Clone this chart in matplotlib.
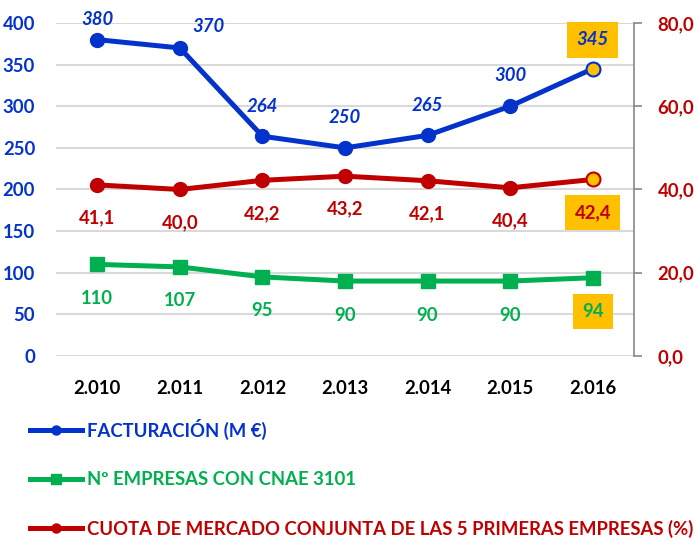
"""
Facturación, nº empresas y cuota de mercado (2010-2016)
"""

import matplotlib
matplotlib.use('Agg')
import matplotlib.pyplot as plt
from matplotlib.ticker import FuncFormatter, MultipleLocator

# ================= datos =================
years = ['2.010', '2.011', '2.012', '2.013', '2.014', '2.015', '2.016']
facturacion = [380, 370, 264, 250, 265, 300, 345]
empresas = [110, 107, 95, 90, 90, 90, 94]
cuota = [41.1, 40.0, 42.2, 43.2, 42.1, 40.4, 42.4]

lbl_fact = 'FACTURACIÓN (M €)'
lbl_emp = 'Nº EMPRESAS CON CNAE 3101'
lbl_cuota = 'CUOTA DE MERCADO CONJUNTA DE LAS 5 PRIMERAS EMPRESAS (%)'

# ================= estilo =================
c_blue = '#0433CC'
c_green = '#00B050'
c_red = '#C00000'
c_yellow = '#FFC000'
c_grid = '#D9D9D9'

plt.rcParams['font.family'] = ['Lato', 'DejaVu Sans']
plt.rcParams['font.weight'] = 'bold'
fs = 13.3

fig = plt.figure(figsize=(6.94, 5.41), dpi=100)
ax = fig.add_axes([0.0807, 0.342, 0.8328, 0.6155])
ax2 = ax.twinx()

x = list(range(len(years)))
lw = 3.6
ms = 10

l_fact, = ax.plot(x, facturacion, color=c_blue, lw=lw, marker='o', ms=ms,
                  zorder=5, label=lbl_fact)
l_emp, = ax.plot(x, empresas, color=c_green, lw=lw, marker='s', ms=ms,
                 zorder=5, label=lbl_emp)
l_cuota, = ax2.plot(x, cuota, color=c_red, lw=lw, marker='o', ms=ms,
                    zorder=5, label=lbl_cuota)

# último punto resaltado
ax.plot(x[-1], facturacion[-1], marker='o', ms=ms, mfc=c_yellow,
        mec=c_blue, mew=1.5, zorder=6)
ax2.plot(x[-1], cuota[-1], marker='o', ms=ms, mfc=c_yellow,
         mec=c_red, mew=1.5, zorder=6)

# ejes
ax.set_xlim(-0.5, len(years) - 0.5)
ax.set_ylim(0, 400)
ax2.set_ylim(0, 80)
ax.yaxis.set_major_locator(MultipleLocator(50))
ax2.yaxis.set_major_locator(MultipleLocator(20))
ax2.yaxis.set_major_formatter(FuncFormatter(lambda v, p: f'{v:.1f}'.replace('.', ',')))

ax.set_xticks(x)
ax.set_xticklabels(years)
ax.tick_params(axis='x', length=0, pad=17, labelsize=fs, labelcolor='black')
ax.tick_params(axis='y', length=0, pad=15, labelsize=fs, labelcolor=c_blue)
ax2.tick_params(axis='y', length=6, width=1.2, color='#888888', direction='out',
                pad=11, labelsize=fs, labelcolor=c_red)

ax.grid(axis='y', color=c_grid, lw=1.5)
ax.set_axisbelow(True)
for a in (ax, ax2):
    for s in a.spines.values():
        s.set_visible(False)
ax2.spines['right'].set_visible(True)
ax2.spines['right'].set_color('#888888')
ax2.spines['right'].set_linewidth(1.2)

# ================= etiquetas =================
box = dict(boxstyle='square,pad=0.5', fc=c_yellow, ec='none')
fact_off = [(0, 20), (29, 21), (0, 30), (0, 30), (0, 30), (0, 31), (0, 29)]
for i, v in enumerate(facturacion):
    ax.annotate(str(v), (x[i], v), xytext=fact_off[i], textcoords='offset pixels',
                ha='center', va='center', color=c_blue, fontsize=fs,
                style='italic', fontweight='bold', zorder=7,
                bbox=box if i == len(x) - 1 else None)
for i, v in enumerate(cuota):
    ax2.annotate(f'{v:.1f}'.replace('.', ','), (x[i], v), xytext=(0, -33),
                 textcoords='offset pixels', ha='center', va='center',
                 color=c_red, fontsize=fs, fontweight='bold', zorder=7,
                 bbox=box if i == len(x) - 1 else None)
for i, v in enumerate(empresas):
    ax.annotate(str(v), (x[i], v), xytext=(0, -34), textcoords='offset pixels',
                ha='center', va='center', color=c_green, fontsize=fs,
                fontweight='bold', zorder=7,
                bbox=box if i == len(x) - 1 else None)

# ================= leyenda =================
fig.legend(handles=[l_fact, l_emp, l_cuota], loc='upper left',
           bbox_to_anchor=(0.043, 0.226), frameon=False, fontsize=fs,
           handlelength=2.8, handletextpad=0.3, labelspacing=1.7,
           borderpad=0, borderaxespad=0, markerscale=0.65,
           labelcolor=[c_blue, c_green, c_red])

fig.savefig('out.png', dpi=100, facecolor='white')
